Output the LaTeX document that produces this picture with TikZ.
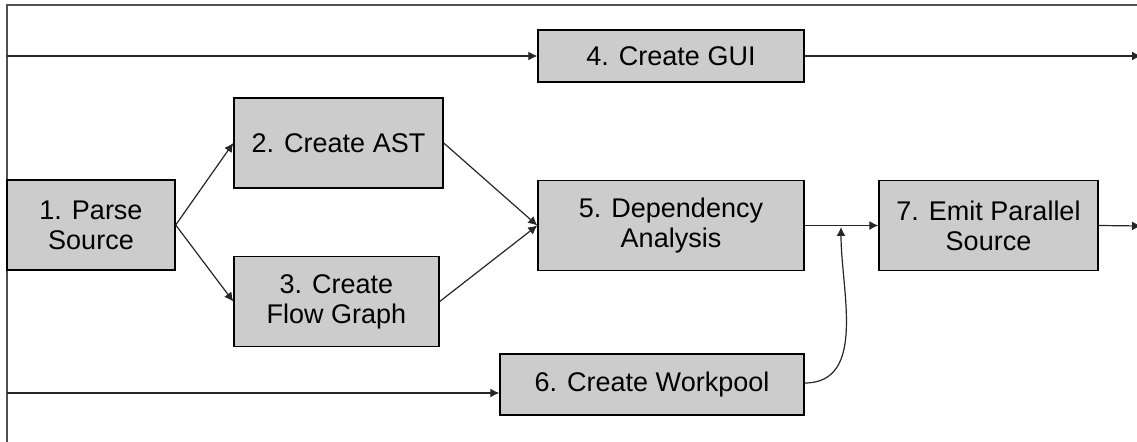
\documentclass[tikz,border=0pt]{standalone}
\usepackage{fontspec}
\setmainfont{Liberation Sans}
\usetikzlibrary{arrows.meta}
\definecolor{boxgray}{HTML}{CCCCCC}
\definecolor{framegray}{HTML}{505050}
\tikzset{
  stage/.style={draw=black, fill=boxgray, line width=0.7pt, align=center, inner sep=0pt,
    font=\fontsize{13.5}{15}\selectfont},
  flow/.style={draw=black!85, line width=0.6pt, -{Latex[length=4.5pt,width=4.5pt]}}
}
\begin{document}
\begin{tikzpicture}[x=0.5pt, y=-0.5pt]
\useasboundingbox (0,0) rectangle (1137,442);
% Rahmen
\draw[framegray, line width=0.8pt] (7,442) -- (7,5) -- (1137,5);
% Stufen
\node[stage, minimum width=84pt, minimum height=45pt] (parse) at (91,225) {1. Parse\\Source};
\node[stage, minimum width=104.5pt, minimum height=45pt] (ast) at (338.5,143) {2. Create AST};
\node[stage, minimum width=102.5pt, minimum height=45pt] (flowg) at (336.5,301.5) {3. Create\\Flow Graph};
\node[stage, minimum width=133pt, minimum height=26pt] (gui) at (671,56) {4. Create GUI};
\node[stage, minimum width=133pt, minimum height=45pt] (dep) at (671,225.5) {5. Dependency\\Analysis};
\node[stage, minimum width=152pt, minimum height=30.5pt] (pool) at (652,384.5) {6. Create Workpool};
\node[stage, minimum width=109.5pt, minimum height=45pt] (emit) at (988.5,225.5) {7. Emit Parallel\\Source};
% Hilfspunkte
\coordinate (topin) at (7,56);
\coordinate (topout) at (1141,56);
\coordinate (lowin) at (7,393);
\coordinate (join) at (841,227);
\coordinate (emitout) at (1141,226);
% Pfeile
\draw[flow] (parse.east) -- (ast.west);
\draw[flow] (parse.east) -- (flowg.west);
\draw[flow] (ast.east) -- (dep.west);
\draw[flow] (flowg.east) -- (dep.west);
\draw[flow] (topin) -- (gui.west);
\draw[flow] (gui.east) -- (topout);
\draw[flow] (lowin) -- (lowin -| pool.west);
\draw[flow] (dep.east) -- (emit.west);
\draw[flow] (pool.east) ++(0,-1.5) to[out=0, in=-90] (join);
\draw[flow] (emit.east) -- (emitout);
\end{tikzpicture}
\end{document}
